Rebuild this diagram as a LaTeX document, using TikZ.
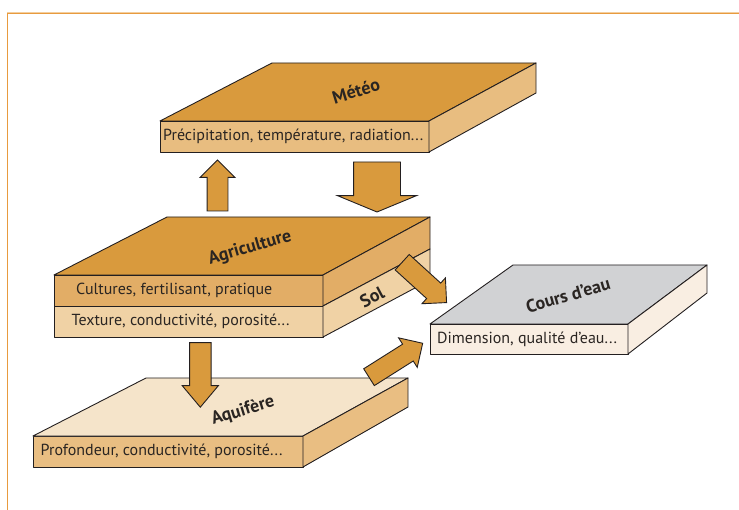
\documentclass[tikz,border=0pt]{standalone}
\usepackage{fontspec}
\setmainfont{PT Sans}
\usetikzlibrary{shapes.arrows,calc}
\definecolor{ochre}{HTML}{D99A3D}
\definecolor{meteoF}{HTML}{E8BD80}
\definecolor{cultF}{HTML}{E2AD66}
\definecolor{solF}{HTML}{F0D2A5}
\definecolor{aquiT}{HTML}{F5E4CA}
\definecolor{aquiF}{HTML}{E9BE82}
\definecolor{coursT}{HTML}{D1D2D4}
\definecolor{coursF}{HTML}{F9EEE2}
\definecolor{outline}{HTML}{231F20}
\definecolor{txt}{HTML}{2A2522}
\definecolor{frameO}{HTML}{E89B3F}
\definecolor{frameL}{HTML}{F3CFA0}
\begin{document}
\begin{tikzpicture}[x=1pt,y=-1pt,
  edge/.style={draw=outline, line width=0.9pt, line join=round},
  frontface/.style={edge, rectangle, anchor=north west, outer sep=0pt, inner sep=0pt},
  facetext/.style={anchor=west, inner sep=0pt, font=\fontsize{16}{18}\selectfont, text=txt},
  slablabel/.style={font=\bfseries\fontsize{18}{20}\selectfont, text=txt, inner sep=0pt},
  blockarrow/.style={single arrow, draw=outline, fill=ochre, line width=0.9pt,
    inner xsep=0pt, outer sep=0pt, single arrow head indent=0pt, anchor=tail}
]
\useasboundingbox (0,0) rectangle (739,510);
% frame
\draw[frameL, line width=1pt] (7,12.6) -- (739,12.6);
\draw[frameO, line width=1pt] (7,13.8) -- (739,13.8);
\draw[frameO, line width=1pt] (7,13.3) -- (7,510);

% ---------- Meteo slab
\node[frontface, fill=meteoF, minimum width=269pt, minimum height=31pt] (meteo) at (160,121) {};
\draw[edge, fill=ochre] (meteo.north west) -- ++(112,-58) coordinate (meteoBL)
  -- ($(meteo.north east)+(107,-58)$) coordinate (meteoBR) -- (meteo.north east) -- cycle;
\draw[edge, fill=meteoF] (meteo.north east) -- (meteoBR) -- ++(0,30) -- (meteo.south east) -- cycle;
\node[facetext] (meteoT) at ($(meteo.west)+(3,0)$) {Précipitation, température, radiation...};
\node[slablabel, rotate=17] (meteoL) at (356,91) {Météo};

% ---------- Agriculture / Sol slab
\node[frontface, fill=cultF, minimum width=269pt, minimum height=31pt] (cult) at (54,275) {};
\node[frontface, fill=solF, minimum width=269pt, minimum height=31pt] (tex) at (54,306) {};
\draw[edge, fill=ochre] (cult.north west) -- ++(113,-58) coordinate (agBL)
  -- ($(cult.north east)+(107,-58)$) coordinate (agBR) -- (cult.north east) -- cycle;
\draw[edge, fill=cultF] (cult.north east) -- (agBR) -- ++(0,32) coordinate (agBS) -- (cult.south east) -- cycle;
\draw[edge, fill=solF] (tex.north east) -- (agBS) -- ++(0,31) -- (tex.south east) -- cycle;
\node[facetext] (cultT) at ($(cult.west)+(22,0)$) {Cultures, fertilisant, pratique};
\node[facetext] (texT) at ($(tex.west)+(17.5,0)$) {Texture, conductivité, porosité...};
\node[slablabel, rotate=16] (agriL) at (250,248) {Agriculture};
\node[slablabel, rotate=28] (solL) at (372,297) {Sol};

% ---------- Aquifere slab
\node[frontface, fill=aquiF, minimum width=270pt, minimum height=31pt] (aqui) at (33,436) {};
\draw[edge, fill=aquiT] (aqui.north west) -- ++(113,-58) coordinate (aqBL)
  -- ($(aqui.north east)+(105,-58)$) coordinate (aqBR) -- (aqui.north east) -- cycle;
\draw[edge, fill=aquiF] (aqui.north east) -- (aqBR) -- ++(0,29) -- (aqui.south east) -- cycle;
\node[facetext] (aquiT) at ($(aqui.west)+(7.5,0)$) {Profondeur, conductivité, porosité...};
\node[slablabel, rotate=17] (aquiL) at (243,411) {Aquifère};

% ---------- Cours d'eau slab
\node[frontface, fill=coursF, minimum width=198pt, minimum height=30pt] (cours) at (430,324) {};
\draw[edge, fill=coursT] (cours.north west) -- ++(83,-59) coordinate (coBL)
  -- ($(cours.north east)+(79,-59)$) coordinate (coBR) -- (cours.north east) -- cycle;
\draw[edge, fill=coursF] (cours.north east) -- (coBR) -- ++(0,28) -- (cours.south east) -- cycle;
\node[facetext] (coursT) at ($(cours.west)+(7,0)$) {Dimension, qualité d’eau...};
\node[slablabel, rotate=16] (coursL) at (568,295) {Cours d’eau};

% ---------- arrows
\node[blockarrow, rotate=90, minimum height=51pt, inner ysep=10pt,
  single arrow head extend=7pt] (a1) at (217.5,211) {};
\node[blockarrow, rotate=-90, minimum height=50pt, inner ysep=23pt,
  single arrow head extend=16pt, single arrow tip angle=135] (a2) at (377,162) {};
\node[blockarrow, rotate=-90, minimum height=64.5pt, inner ysep=10.3pt,
  single arrow head extend=7.3pt, single arrow tip angle=80] (a3) at (200.3,342.7) {};
\node[blockarrow, rotate=-42.3, minimum height=60pt, inner ysep=10pt,
  single arrow head extend=7pt] (a4) at (402.2,262.2) {};
\node[blockarrow, rotate=32.3, minimum height=63.5pt, inner ysep=9.5pt,
  single arrow head extend=7.5pt] (a5) at (369,377.2) {};
\end{tikzpicture}
\end{document}
